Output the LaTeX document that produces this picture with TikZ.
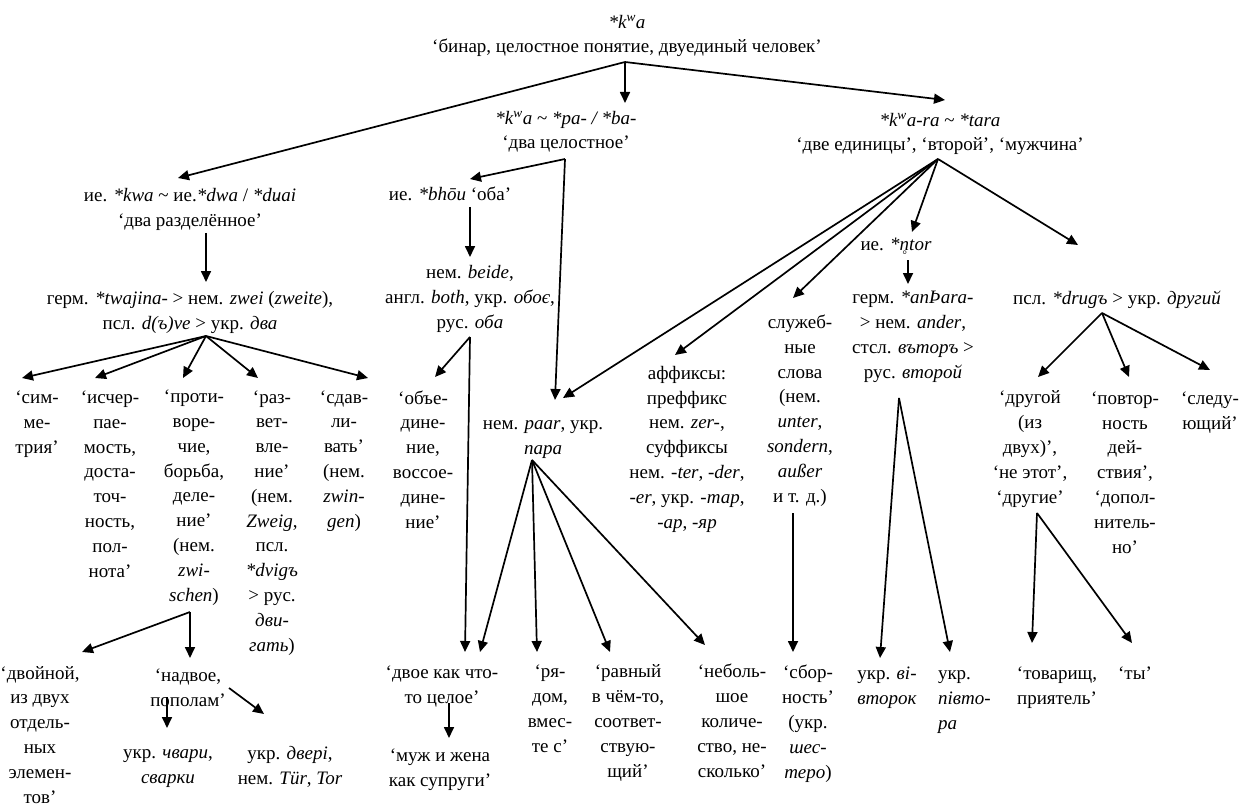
\documentclass[tikz,border=0pt]{standalone}
\usepackage{fontspec}
\setmainfont{Liberation Serif}
\usetikzlibrary{arrows.meta}
\newcommand{\uarch}[1]{\ooalign{#1\cr\hidewidth\raisebox{-0.75ex}{\scalebox{0.7}{ˆ}}\hidewidth\cr}}
\newcommand{\rbelow}[1]{\ooalign{#1\cr\hidewidth\raisebox{-0.9ex}{\scalebox{0.6}{°}}\hidewidth\cr}}
\begin{document}
\begin{tikzpicture}[x=1pt,y=-1pt,
  every node/.style={inner sep=0pt, outer sep=0pt, align=center, anchor=base,
    font=\fontsize{19}{24.8}\selectfont},
  arr/.style={-{Triangle[length=11pt,width=10pt]}, line width=1.7pt},
  ln/.style={line width=1.7pt}]
\useasboundingbox (0,0) rectangle (1242,805);
% ---------- nodes (positions = baseline of last line) ----------
\node (T) at (627,53) {\textit{*k\textsuperscript{w}a}\\‘бинар, целостное понятие, двуединый человек’};
\node (A) at (566,149) {\textit{*k\textsuperscript{w}a} \textasciitilde{} \textit{*pa- / *ba-}\\‘два целостное’};
\node (B) at (940,151) {\textit{*k\textsuperscript{w}a-ra} \textasciitilde{} \textit{*tara}\\‘две единицы’, ‘второй’, ‘мужчина’};
\node (N1) at (190,226) {ие. \textit{*kwa} \textasciitilde{} ие.\textit{*dwa} / \textit{*d\uarch{u}ai}\\‘два разделённое’};
\node (N2) at (190,329) {герм. \textit{*twajina-} > нем. \textit{zwei} (\textit{zweite}),\\псл. \textit{d(ъ)ve} > укр. \textit{два}};
\node (L1) at (37,453) {‘сим-\\ме-\\трия’};
\node (L2) at (110,577) {‘исчер-\\пае-\\мость,\\доста-\\точ-\\ность,\\пол-\\нота’};
\node (L3) at (194,601) {‘проти-\\воре-\\чие,\\борьба,\\деле-\\ние’\\(нем.\\\textit{zwi-}\\\textit{schen})};
\node (L4) at (272,651) {‘раз-\\вет-\\вле-\\ние’\\(нем.\\\textit{Zweig},\\псл.\\\textit{*dvigъ}\\> рус.\\\textit{дви-}\\\textit{гать})};
\node (L5) at (344,527) {‘сдав-\\ли-\\вать’\\(нем.\\\textit{zwin-}\\\textit{gen})};
\node (D1) at (40,803) {‘двойной,\\из двух\\отдель-\\ных\\элемен-\\тов’};
\node (D2) at (188,706) {‘надвое,\\пополам’};
\node (D3) at (168,783) {укр. \textit{чвари},\\\textit{сварки}};
\node (D4) at (290,784) {укр. \textit{двері},\\нем. \textit{Tür}, \textit{Tor}};
\node (M1) at (450,201) {ие. \textit{*bhōu} ‘оба’};
\node (M2) at (470,328) {нем. \textit{beide},\\англ. \textit{both}, укр. \textit{обоє},\\рус. \textit{оба}};
\node (M3) at (423,528) {‘объе-\\дине-\\ние,\\воссое-\\дине-\\ние’};
\node (M4) at (543,454) {нем. \textit{paar}, укр.\\\textit{пара}};
\node (M5) at (687,528) {аффиксы:\\преффикс\\нем. \textit{zer-},\\суффиксы\\нем. \textit{-ter}, \textit{-der},\\\textit{-er}, укр. \textit{-тар},\\\textit{-ар}, \textit{-яр}};
\node (M6) at (800,502) {служеб-\\ные\\слова\\(нем.\\\textit{unter},\\\textit{sondern},\\\textit{außer}\\и т. д.)};
\node (P1) at (442,703) {‘двое как что-\\то целое’};
\node (P2) at (440,786) {‘муж и жена\\как супруги’};
\node (P3) at (550,752) {‘ря-\\дом,\\вмес-\\те с’};
\node (P4) at (628,777) {‘равный\\в чём-то,\\соответ-\\ствую-\\щий’};
\node (P5) at (732,777) {‘неболь-\\шое\\количе-\\ство, не-\\сколько’};
\node (R1) at (896,251) {ие. \textit{*\rbelow{n}tor}};
\node (R2) at (913,378) {герм. \textit{*anÞara-}\\> нем. \textit{ander},\\стсл. \textit{въторъ} >\\рус. \textit{второй}};
\node (R3) at (1117,304) {псл. \textit{*drugъ} > укр. \textit{другий}};
\node (R4) at (1030,503) {‘другой\\(из\\двух)’,\\‘не этот’,\\‘другие’};
\node (R5) at (1125,553) {‘повтор-\\ность\\дей-\\ствия’,\\‘допол-\\нитель-\\но’};
\node (R6) at (1210,429) {‘следу-\\ющий’};
\node (S1) at (808,778) {‘сбор-\\ность’\\(укр.\\\textit{шес-}\\\textit{теро})};
\node (S2) at (887,704) {укр. \textit{ві-}\\\textit{второк}};
\node[anchor=base west, align=left] (S3) at (938,729) {укр.\\\textit{півто-}\\\textit{ра}};
\node (S4) at (1057,704) {‘товарищ,\\приятель’};
\node (S5) at (1135,679) {‘ты’};
% ---------- hubs and tips ----------
\coordinate (hT) at (625,62);
\coordinate (tN1) at (178,178);
\coordinate (tA) at (625,103);
\coordinate (tB) at (945,100);
\coordinate (hA) at (565,159);
\coordinate (tM1) at (470,179);
\coordinate (tM4a) at (555,400);
\coordinate (hN1) at (206,233);
\coordinate (tN2) at (206,282);
\coordinate (hN2) at (206,336);
\coordinate (tL1) at (22,378);
\coordinate (tL2) at (95,378);
\coordinate (tL3) at (183,378);
\coordinate (tL4) at (258,378);
\coordinate (tL5) at (368,378);
\coordinate (hL3) at (190,612);
\coordinate (tD1) at (82,652);
\coordinate (tD2) at (190,658);
\coordinate (hD2a) at (167,697);
\coordinate (tD3) at (167,728);
\coordinate (hD2b) at (229,688);
\coordinate (tD4) at (264,714);
\coordinate (hM1) at (470,207);
\coordinate (tM2) at (470,257);
\coordinate (hM2) at (470,337);
\coordinate (tM3) at (435,377);
\coordinate (tP1a) at (465,652);
\coordinate (hM4) at (532,460);
\coordinate (tP1b) at (480,652);
\coordinate (tP3) at (537,652);
\coordinate (tP4) at (610,652);
\coordinate (tP5) at (705,645);
\coordinate (hP1) at (449,703);
\coordinate (tP2) at (449,738);
\coordinate (hB) at (938,159);
\coordinate (tM4b) at (563,398);
\coordinate (tM5) at (675,355);
\coordinate (tM6) at (793,298);
\coordinate (tR1) at (912,232);
\coordinate (tR3) at (1078,245);
\coordinate (hR1) at (908,260);
\coordinate (tR2) at (908,284);
\coordinate (hR2) at (899,398);
\coordinate (tS2) at (880,658);
\coordinate (tS3) at (950,652);
\coordinate (hM6) at (793,513);
\coordinate (tS1) at (793,652);
\coordinate (hR3) at (1102,313);
\coordinate (tR4) at (1038,377);
\coordinate (tR5) at (1129,377);
\coordinate (tR6) at (1210,370);
\coordinate (hR4) at (1037,513);
\coordinate (tS4) at (1032,643);
\coordinate (tS5) at (1132,643);
% ---------- connectors ----------
\draw[arr] (hT) -- (tN1);
\draw[arr] (hT) -- (tA);
\draw[arr] (hT) -- (tB);
\draw[arr] (hA) -- (tM1);
\draw[arr] (hA) -- (tM4a);
\draw[arr] (hN1) -- (tN2);
\foreach \t in {tL1,tL2,tL3,tL4,tL5} \draw[arr] (hN2) -- (\t);
\draw[arr] (hL3) -- (tD1);
\draw[arr] (hL3) -- (tD2);
\draw[arr] (hD2a) -- (tD3);
\draw[arr] (hD2b) -- (tD4);
\draw[arr] (hM1) -- (tM2);
\draw[arr] (hM2) -- (tM3);
\draw[arr] (hM2) -- (tP1a);
\foreach \t in {tP1b,tP3,tP4,tP5} \draw[arr] (hM4) -- (\t);
\draw[arr] (hP1) -- (tP2);
\foreach \t in {tM4b,tM5,tM6,tR1,tR3} \draw[arr] (hB) -- (\t);
\draw[arr] (hR1) -- (tR2);
\draw[arr] (hR2) -- (tS2);
\draw[arr] (hR2) -- (tS3);
\draw[arr] (hM6) -- (tS1);
\foreach \t in {tR4,tR5,tR6} \draw[arr] (hR3) -- (\t);
\draw[arr] (hR4) -- (tS4);
\draw[arr] (hR4) -- (tS5);
\end{tikzpicture}
\end{document}
